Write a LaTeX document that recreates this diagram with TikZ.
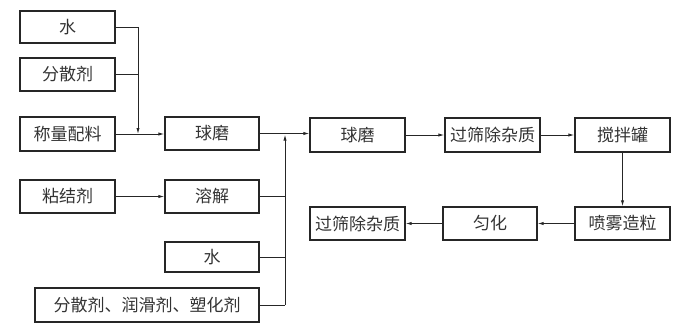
\documentclass[tikz,border=0pt]{standalone}
\usepackage{fontspec}
\newfontfamily\cjk{Noto Sans CJK SC}
\usetikzlibrary{arrows.meta}
\begin{document}
\begin{tikzpicture}[x=1pt,y=-1pt,
  box/.style={draw=black!85,line width=1.1pt,minimum width=95pt,minimum height=33pt,inner sep=0pt,
     font=\cjk\fontsize{17}{18}\selectfont,text=black!80},
  conn/.style={draw=black!85,line width=0.9pt},
  arr/.style={conn,-{Latex[length=6pt,width=3.2pt]}}]
\useasboundingbox (0,0) rectangle (693,329);
\node[box,minimum height=32pt] (w1) at (67.5,27) {水};
\node[box] (fs) at (67.5,74.5) {分散剂};
\node[box,minimum height=34pt] (cl) at (67.5,134) {称量配料};
\node[box,minimum width=94pt] (qm1) at (212,133.5) {球磨};
\node[box] (nj) at (67.5,196.5) {粘结剂};
\node[box,minimum width=94pt] (rj) at (212,196.5) {溶解};
\node[box,minimum width=94pt,minimum height=30pt] (w2) at (212,257) {水};
\node[box,minimum width=224pt,minimum height=34pt] (mix) at (147,305) {分散剂、润滑剂、塑化剂};
\node[box,minimum height=34pt] (qm2) at (357.5,135) {球磨};
\node[box,minimum height=34pt] (gs1) at (492.5,135) {过筛除杂质};
\node[box,minimum height=34pt] (jb) at (622.5,135) {搅拌罐};
\node[box] (pw) at (622.5,223.5) {喷雾造粒};
\node[box,minimum width=94pt] (yh) at (490,223.5) {匀化};
\node[box] (gs2) at (357.5,223.5) {过筛除杂质};
\coordinate (j1) at (138,134);
\coordinate (j2) at (285,134.5);
\draw[conn] (w1.east) -| (138,27) coordinate (t1);
\draw[arr] (t1) -- (j1);
\draw[conn] (fs.east) -- (fs.east -| j1);
\draw[arr] (cl.east) -- (cl.east -| qm1.west);
\draw[arr] (nj) -- (rj);
\draw[arr] (qm1.east) -- (qm1.east -| qm2.west);
\draw[conn] (mix.east) -- (mix.east -| j2) coordinate (b2);
\draw[arr] (b2) -- (j2);
\draw[conn] (rj.east) -- (rj.east -| j2);
\draw[conn] (w2.east) -- (w2.east -| j2);
\draw[arr] (qm2) -- (gs1);
\draw[arr] (gs1) -- (jb);
\draw[arr] (jb) -- (pw);
\draw[arr] (pw) -- (yh);
\draw[arr] (yh) -- (gs2);
\end{tikzpicture}
\end{document}
